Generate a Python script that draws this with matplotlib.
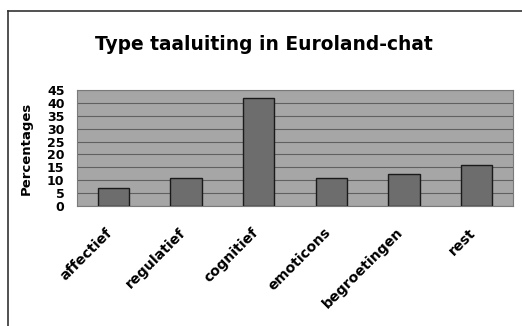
import matplotlib.pyplot as plt
from matplotlib.lines import Line2D
from matplotlib.transforms import ScaledTranslation

categories = ["affectief", "regulatief", "cognitief", "emoticons", "begroetingen", "rest"]
percentages = [7, 11, 42, 11, 12.5, 16]
y_ticks = [0, 5, 10, 15, 20, 25, 30, 35, 40, 45]

plt.rcParams['font.family'] = ['DejaVu Sans']

fig = plt.figure(figsize=(5.22, 3.26), dpi=100)
ax = fig.add_axes([0.1475, 0.368, 0.8355, 0.356])

x = range(len(categories))
ax.set_facecolor('#a6a6a6')
ax.bar(x, percentages, width=0.43, color='#6d6d6d', edgecolor='#1a1a1a', linewidth=1.0, zorder=3)

ax.set_xlim(-0.5, len(categories) - 0.5)
ax.set_ylim(0, 45)
ax.set_yticks(y_ticks)
ax.set_yticklabels([str(t) for t in y_ticks], fontsize=9, fontweight='bold',
                   family=['DejaVu Sans Condensed', 'DejaVu Sans'])
ax.yaxis.grid(True, color='#606060', linewidth=0.8, zorder=1)
ax.set_axisbelow(True)
ax.tick_params(axis='y', length=0, pad=9)
ax.tick_params(axis='x', length=0, pad=14)
ax.set_xticks(list(x))
ax.set_xticklabels(categories, rotation=45, ha='right', rotation_mode='anchor',
                   fontsize=10.2, fontweight='bold')
shift = ScaledTranslation(-0.08, 0, fig.dpi_scale_trans)
for lbl in ax.get_xticklabels():
    lbl.set_transform(lbl.get_transform() + shift)
for s in ax.spines.values():
    s.set_color('#7a7a7a')
    s.set_linewidth(0.8)

ax.set_ylabel("Percentages", fontsize=9.5, fontweight='bold', labelpad=10)
fig.text(0.505, 0.862, "Type taaluiting in Euroland-chat", ha='center', va='center',
         fontsize=13.4, fontweight='bold')

# outer frame (top and left edges)
fx = 8 / 522
fy = 1 - 11 / 326
fig.add_artist(Line2D([fx, 1], [fy, fy], color='#333333', linewidth=1.2))
fig.add_artist(Line2D([fx, fx], [0, fy], color='#333333', linewidth=1.2))

fig.savefig("out.png", dpi=100)
